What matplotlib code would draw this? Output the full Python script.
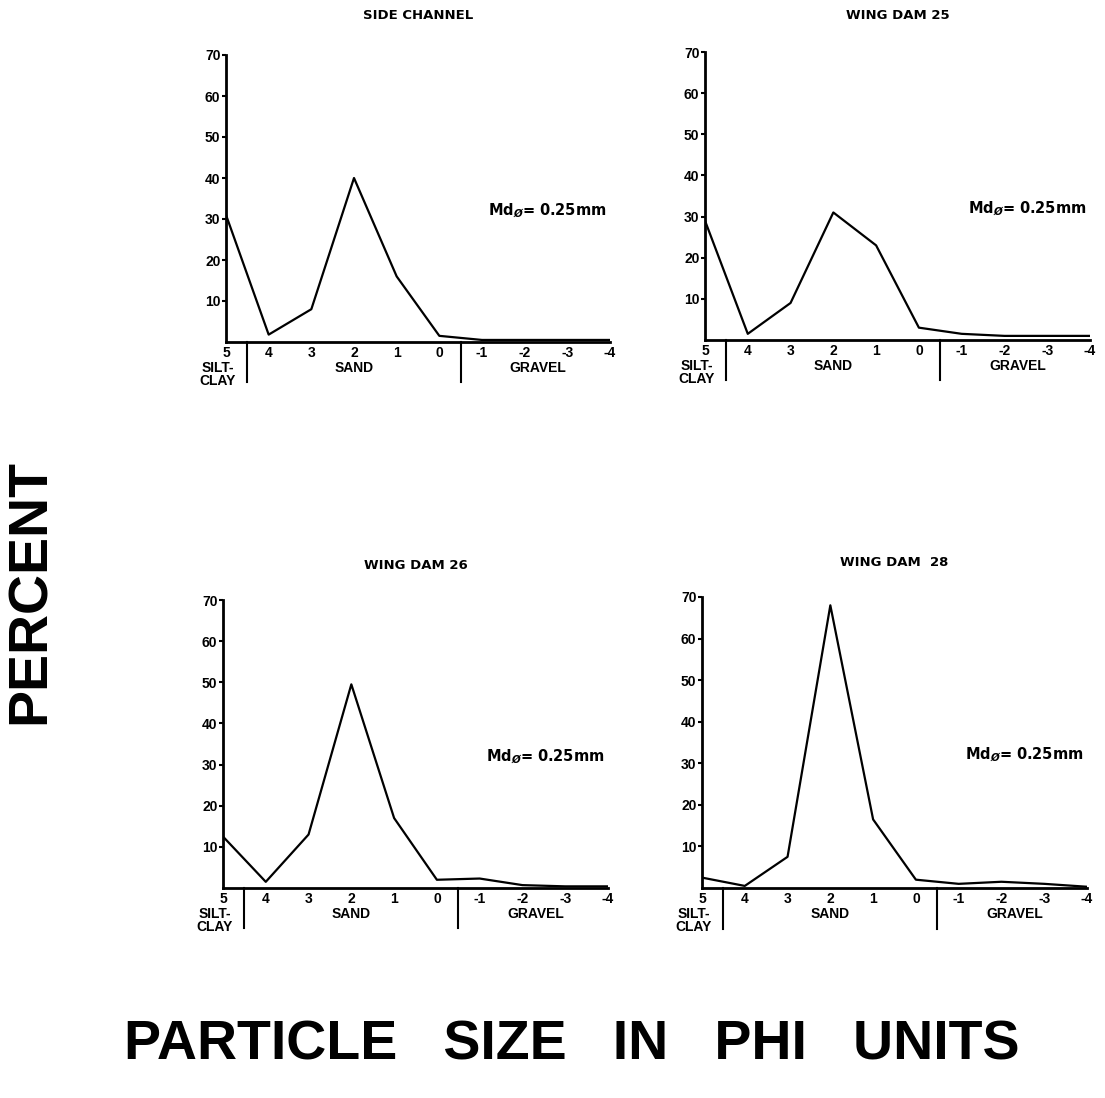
import matplotlib.pyplot as plt
import matplotlib.transforms as mtransforms

plt.rcParams['font.family'] = ['Liberation Sans', 'DejaVu Sans']
plt.rcParams['font.weight'] = 'bold'

phi = [5, 4, 3, 2, 1, 0, -1, -2, -3, -4]
phi_labels = ['5', '4', '3', '2', '1', '0', '-1', '-2', '-3', '-4']

side_channel = [31, 1.8, 8, 40, 16, 1.5, 0.5, 0.5, 0.5, 0.5]
wing_dam_25 = [29, 1.5, 9, 31, 23, 3, 1.5, 1, 1, 1]
wing_dam_26 = [12.5, 1.5, 13, 49.5, 17, 2, 2.3, 0.7, 0.4, 0.4]
wing_dam_28 = [2.5, 0.5, 7.5, 68, 16.5, 2, 1, 1.5, 1, 0.3]

titles = ['SIDE CHANNEL', 'WING DAM 25', 'WING DAM 26', 'WING DAM  28']
series = [side_channel, wing_dam_25, wing_dam_26, wing_dam_28]

yticks = [10, 20, 30, 40, 50, 60, 70]
class_names = ['SILT-\nCLAY', 'SAND', 'GRAVEL']
class_pos = [5.2, 2, -2.3]
class_breaks = [4.5, -0.5]
median_text = r'Md$_{Ø}$= 0.25mm'

W, H = 1105, 1098
# pixel boxes: left, right, top, bottom
boxes = [(226, 610, 55, 342), (705, 1090, 52, 340),
         (223, 608, 600, 888), (702, 1087, 597, 888)]
title_pads = [26, 23.5, 22, 22]

fig = plt.figure(figsize=(W / 100, H / 100), dpi=100)

for (l, r, t, b), title, vals, tp in zip(boxes, titles, series, title_pads):
    ax = fig.add_axes([l / W, 1 - b / H, (r - l) / W, (b - t) / H])
    ax.plot(phi, vals, color='black', lw=1.6)
    ax.set_xlim(5, -4)
    ax.set_ylim(0, 70)
    ax.spines['top'].set_visible(False)
    ax.spines['right'].set_visible(False)
    ax.spines['left'].set_linewidth(2)
    ax.spines['bottom'].set_linewidth(2)
    ax.set_yticks(yticks)
    ax.set_yticklabels([str(v) for v in yticks], fontsize=10, fontweight='bold')
    ax.tick_params(axis='y', length=3, width=1.5, pad=1)
    ax.set_xticks(phi)
    ax.set_xticklabels(phi_labels, fontsize=10, fontweight='bold')
    ax.tick_params(axis='x', length=0, pad=3)
    ax.set_title(title, fontsize=9.5, fontweight='bold', pad=tp,
                 family='DejaVu Sans')

    trans = mtransforms.blended_transform_factory(ax.transData, ax.transAxes)
    for xb in class_breaks:
        ax.plot([xb, xb], [0, -0.14], color='black', lw=1.5,
                transform=trans, clip_on=False)
    for name, xp in zip(class_names, class_pos):
        ax.text(xp, -0.065, name, transform=trans, ha='center', va='top',
                fontsize=10, fontweight='bold', linespacing=0.9)

    ax.text(-1.15, 32, median_text, fontsize=10.5, fontweight='bold',
            ha='left', va='center', family='DejaVu Sans')

fig.text(31 / W, 1 - 592 / H, 'PERCENT', rotation=90, fontsize=40,
         fontweight='bold', ha='center', va='center')
fig.text(572 / W, 1 - 1045 / H, 'PARTICLE   SIZE   IN   PHI   UNITS',
         fontsize=40, fontweight='bold', ha='center', va='center')

fig.savefig('out.png', dpi=100, facecolor='white')
